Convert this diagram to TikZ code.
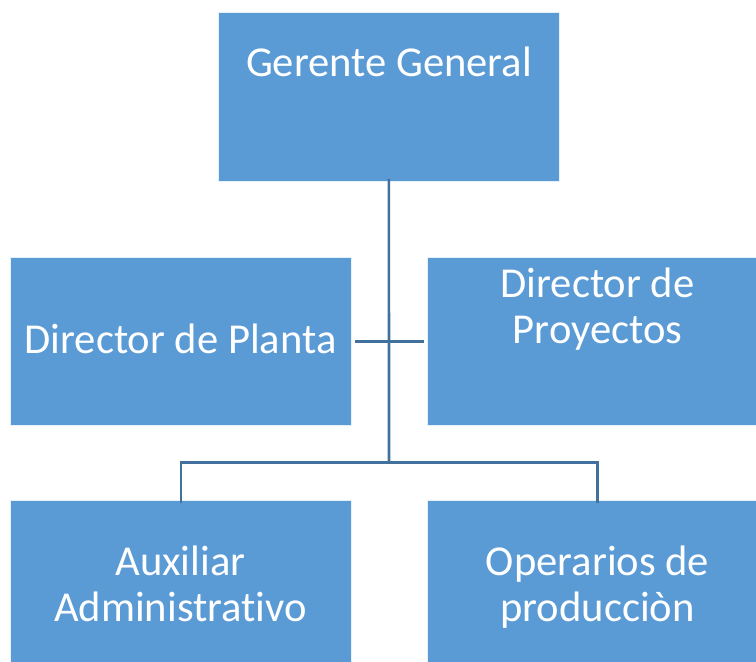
\documentclass[tikz,border=0pt]{standalone}
\usepackage{fontspec}
\setmainfont[Ligatures=NoCommon]{Carlito}
\definecolor{boxblue}{HTML}{5B9BD5}
\definecolor{linkblue}{HTML}{41719C}
\begin{document}
\begin{tikzpicture}[x=1pt,y=-1pt,
  orgbox/.style={rectangle,fill=boxblue,draw=white!85!boxblue,line width=0.8pt,minimum width=341pt,minimum height=169pt,inner sep=0pt,anchor=north west},
  orgtext/.style={text=white,font=\fontsize{42.6}{46.5}\selectfont,anchor=base,inner sep=0pt,align=center},
  link/.style={draw=linkblue,line width=2.6pt}]
\useasboundingbox (0,0) rectangle (756,662);
\clip (0,0) rectangle (756,662);
% boxes
\node[orgbox] (gg) at (218,12) {};
\node[orgbox,minimum height=168pt] (dp) at (10,257) {};
\node[orgbox,minimum height=168pt] (dpr) at (427,257) {};
\node[orgbox] (aux) at (10,500) {};
\node[orgbox] (op) at (427,500) {};
% texts
\node[orgtext] (tgg) at (389,76) {Gerente General};
\node[orgtext] (tdp) at (180.5,353) {Director de Planta};
\node[orgtext] (tdpr1) at (597.5,297) {Director de};
\node[orgtext] (tdpr2) at (597.5,343.5) {Proyectos};
\node[orgtext] (taux1) at (180.5,575) {Auxiliar};
\node[orgtext] (taux2) at (180.5,621.5) {Administrativo};
\node[orgtext] (top1) at (597.5,575) {Operarios de};
\node[orgtext] (top2) at (597.5,621.5) {producciòn};
% connectors
\coordinate (j) at (389,462.5);
\coordinate (jl) at (181,462.5);
\coordinate (jr) at (597.5,462.5);
\draw[link] ([yshift=3pt]gg.south) -- (j);
\draw[link] ([xshift=3pt]dp.east) -- ([xshift=-3pt]dpr.west);
\draw[link] ([yshift=-3pt]aux.north -| jl) -- (jl) -- (jr) -- ([yshift=-3pt]op.north -| jr);
\end{tikzpicture}
\end{document}
